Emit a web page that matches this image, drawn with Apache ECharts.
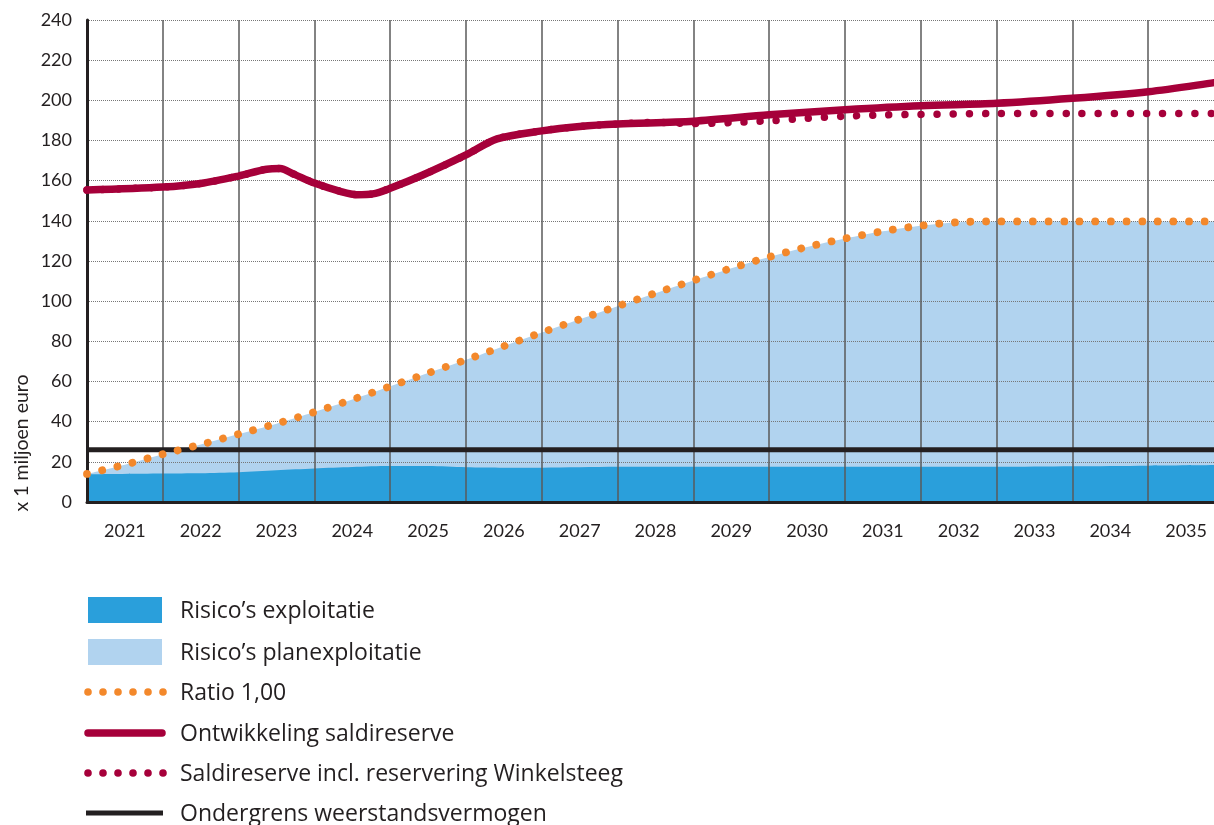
<!DOCTYPE html>
<html><head><meta charset="utf-8">
<script src="https://cdn.jsdelivr.net/npm/echarts@6/dist/echarts.min.js"></script>
<style>html,body{margin:0;padding:0;overflow:hidden;background:#fff}#c{width:1224px;height:825px}</style>
</head><body><div id="c"></div>
<script>
// ---- data ----
const years = ['2021','2022','2023','2024','2025','2026','2027','2028','2029','2030','2031','2032','2033','2034','2035'];

// positions along the time axis: 0 = start of 2021, 15 = end of 2035
const ratioT = [0,0.5,1,1.5,2,2.5,3,3.5,4,4.5,5,5.5,6,6.5,7,7.5,8,8.5,9,9.5,10,10.5,11,11.5,12,13,14,15];
const ratioV = [14,18.6,23.8,28.6,33.8,39,44.8,51,57.6,64.2,70.8,77.6,84.4,91,97.5,104,110.3,116.4,122,127,131.2,134.8,137.6,139.3,139.7,139.7,139.7,139.7];

const explT = [0,1,1.5,2,2.5,3,3.5,4,4.5,5,5.5,6,7,8,9,10,11,12,13,14,15];
const explV = [13.8,14.2,14.3,14.8,15.8,16.7,17.4,17.9,17.9,17.3,17.1,17.1,17.5,17.6,17.6,17.6,17.5,17.5,17.8,18.1,18.4];

const saldoT = [0,1,1.5,2,2.37,2.55,2.72,3,3.34,3.56,3.77,4,4.43,5,5.41,6,6.5,7,8,9,10,11,12,13,14,14.87,15];
const saldoV = [155.3,156.8,158.6,162.3,165.7,166,163.4,158.8,154.7,153,153.4,156.2,162.8,172.8,180.8,184.8,187,188.2,189.6,192.8,195.3,197.3,198.5,201,204.3,208.8,209.6];

const winkT = [0,1,1.5,2,2.37,2.55,2.72,3,3.34,3.56,3.77,4,4.43,5,5.41,6,6.5,7,7.5,8,8.5,9,9.5,10,10.5,11,12,13,14,15];
const winkV = [155.3,156.8,158.6,162.3,165.7,166,163.4,158.8,154.7,153,153.4,156.2,162.8,172.8,180.8,184.8,187,188.2,189,188.4,188.9,189.8,191,192.1,192.7,193,193.4,193.4,193.4,193.4];

const ondergrensT = [0,15];
const ondergrensV = [26,26];

const legendLabels = ['Risico\u2019s exploitatie','Risico\u2019s planexploitatie','Ratio 1,00','Ontwikkeling saldireserve','Saldireserve incl. reservering Winkelsteeg','Ondergrens weerstandsvermogen'];
const yAxisTitle = 'x 1 miljoen euro';

// ---- styling ----
const FONT = 'Lato';
const LFONT = '"Open Sans"';
const C = {dark:'#2A9FDB', light:'#B1D3EF', orange:'#F3882B', red:'#A6003A', black:'#231F20', text:'#231F20'};
const zip = (t,v) => t.map((x,i)=>[x,v[i]]);

const chart = echarts.init(document.getElementById('c'), null, {renderer:'canvas'});

const legendRowsY = [611,653,693,734,774,814];
const graphics = [];
graphics.push({type:'rect', shape:{x:88,y:597,width:74,height:26}, style:{fill:C.dark}});
graphics.push({type:'rect', shape:{x:88,y:639,width:74,height:26}, style:{fill:C.light}});
for (let i=0;i<6;i++){
  graphics.push({type:'circle', shape:{cx:88+15*i, cy:692, r:3.8}, style:{fill:C.orange}});
  graphics.push({type:'circle', shape:{cx:88+15*i, cy:773, r:3.8}, style:{fill:C.red}});
}
graphics.push({type:'line', shape:{x1:88,y1:733,x2:162,y2:733}, style:{stroke:C.red, lineWidth:7.5, lineCap:'round'}});
graphics.push({type:'line', shape:{x1:86,y1:813,x2:163,y2:813}, style:{stroke:C.black, lineWidth:5}});
legendLabels.forEach((s,i)=>{
  graphics.push({type:'text', x:180, y:legendRowsY[i], style:{text:s, fill:C.text, font:'23px '+LFONT, textAlign:'left', textVerticalAlign:'middle'}});
});
graphics.push({type:'text', x:22, y:443, rotation:Math.PI/2, style:{text:yAxisTitle, fill:C.text, font:'19.5px '+FONT, textAlign:'center', textVerticalAlign:'middle'}});

chart.setOption({
  animation:false,
  backgroundColor:'#fff',
  grid:{left:87, right:0, top:20, bottom:323, containLabel:false},
  xAxis:[
    {type:'category', data:years, boundaryGap:true, z:3,
     axisLine:{show:true, lineStyle:{color:C.black, width:3}},
     axisTick:{show:false},
     axisLabel:{interval:0, fontSize:18, fontFamily:FONT, color:C.text, margin:20},
     splitLine:{show:true, interval:0, lineStyle:{color:'#5a5a5a', width:1.5}}},
    {type:'value', min:0, max:15, show:false}
  ],
  yAxis:{type:'value', min:0, max:240, interval:20, z:3,
     axisLine:{show:true, lineStyle:{color:C.black, width:3}},
     axisTick:{show:false},
     axisLabel:{fontSize:18, fontFamily:FONT, color:C.text, margin:15},
     splitLine:{show:true, lineStyle:{color:'#777', width:1, type:'dotted'}}},
  graphic:graphics,
  series:[
    {name:legendLabels[1], type:'line', xAxisIndex:1, data:zip(ratioT,ratioV), smooth:0.3, symbol:'none', z:1,
     lineStyle:{width:0}, areaStyle:{color:C.light, opacity:1}},
    {name:legendLabels[0], type:'line', xAxisIndex:1, data:zip(explT,explV), smooth:0.3, symbol:'none', z:1,
     lineStyle:{width:0}, areaStyle:{color:C.dark, opacity:1}},
    {name:legendLabels[5], type:'line', xAxisIndex:1, data:zip(ondergrensT,ondergrensV), symbol:'none', z:5,
     lineStyle:{color:C.black, width:5}},
    {name:legendLabels[2], type:'line', xAxisIndex:1, data:zip(ratioT,ratioV), smooth:0.3, symbol:'none', z:6,
     lineStyle:{color:C.orange, width:7.8, type:[0.01,15.6], cap:'round'}},
    {name:legendLabels[4], type:'line', xAxisIndex:1, data:zip(winkT,winkV), smooth:0.3, symbol:'none', z:6,
     lineStyle:{color:C.red, width:7.5, type:[0.01,16.1], cap:'round'}},
    {name:legendLabels[3], type:'line', xAxisIndex:1, data:zip(saldoT,saldoV), smooth:0.3, symbol:'none', z:7,
     lineStyle:{color:C.red, width:7.5, cap:'round'}}
  ]
});
</script></body></html>
